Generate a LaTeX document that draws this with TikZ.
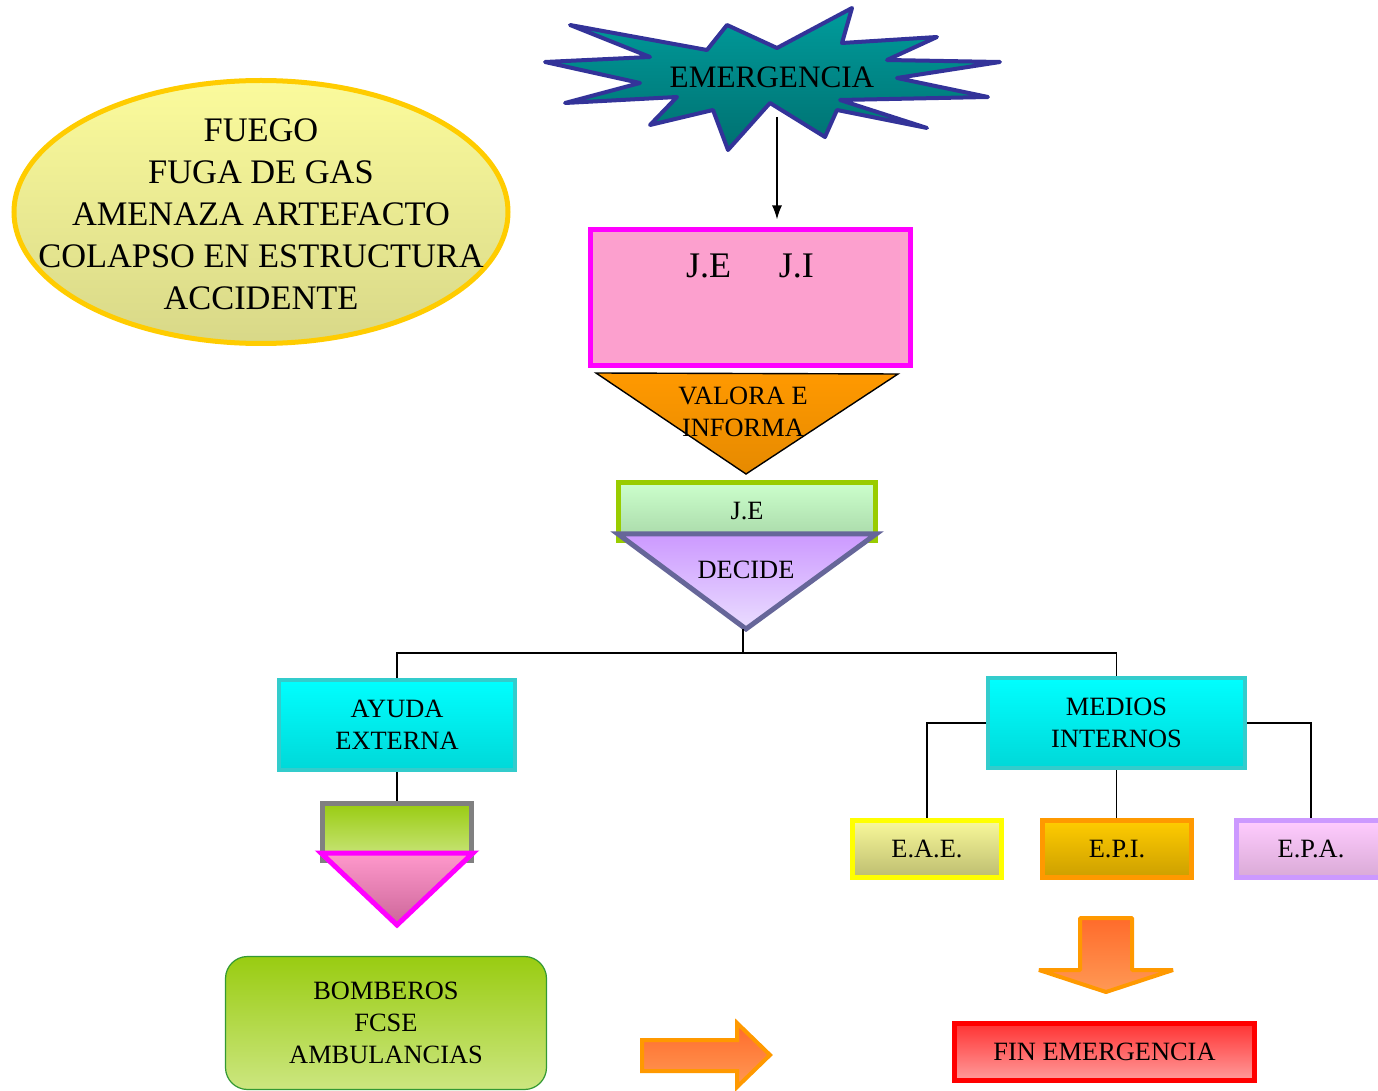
\documentclass[tikz,border=0pt]{standalone}
\usepackage{fontspec}
\setmainfont{Liberation Serif}
\usetikzlibrary{positioning}
\usetikzlibrary{arrows,arrows.meta}
\usetikzlibrary{shapes.geometric}

\definecolor{causeedge}{HTML}{FFCC00}
\definecolor{causetop}{HTML}{FBFB9C}
\definecolor{causebot}{HTML}{D8D888}
\definecolor{burstedge}{HTML}{333399}
\definecolor{bursttop}{HTML}{009C9C}
\definecolor{burstbot}{HTML}{007070}
\definecolor{jejiedge}{HTML}{FF00FF}
\definecolor{jejifill}{HTML}{FCA0CE}
\definecolor{valtop}{HTML}{FF9900}
\definecolor{valbot}{HTML}{E68A00}
\definecolor{jeedge}{HTML}{99CC00}
\definecolor{jetop}{HTML}{CCFFCC}
\definecolor{jebot}{HTML}{A8D8A8}
\definecolor{decedge}{HTML}{666699}
\definecolor{dectop}{HTML}{CC99FF}
\definecolor{decbot}{HTML}{EADDFF}
\definecolor{cyanedge}{HTML}{33CCCC}
\definecolor{cyantop}{HTML}{00FFFF}
\definecolor{cyanbot}{HTML}{00D8D8}
\definecolor{helpedge}{HTML}{808080}
\definecolor{greentop}{HTML}{99CC11}
\definecolor{greenbot}{HTML}{CCE680}
\definecolor{pinktop}{HTML}{FF99CC}
\definecolor{pinkbot}{HTML}{CC6699}
\definecolor{bombedge}{HTML}{339933}
\definecolor{eaeedge}{HTML}{FFFF00}
\definecolor{eaetop}{HTML}{F9F99A}
\definecolor{eaebot}{HTML}{BDBD70}
\definecolor{epiedge}{HTML}{FF9900}
\definecolor{epitop}{HTML}{FFCC00}
\definecolor{epibot}{HTML}{CC9F00}
\definecolor{epaedge}{HTML}{CC99FF}
\definecolor{epatop}{HTML}{FFCCFF}
\definecolor{epabot}{HTML}{D9AAD6}
\definecolor{arrowedge}{HTML}{FF9900}
\definecolor{arrowtop}{HTML}{FF6B2B}
\definecolor{arrowbot}{HTML}{FF9955}
\definecolor{finedge}{HTML}{FF0000}
\definecolor{fintop}{HTML}{FF3333}
\definecolor{finbot}{HTML}{FF9C9C}

\begin{document}
\begin{tikzpicture}
				[x=0.5pt,y=-0.5pt,
					box/.style={rectangle,inner sep=0pt,line width=2.5pt},
					txt/.style={font=\fontsize{13.2}{16}\selectfont,align=center,inner sep=0pt},
					cyanbox/.style={box,txt,line width=2pt,draw=cyanedge,top color=cyantop,bottom color=cyanbot,minimum height=45pt},
					teambox/.style={box,txt,minimum width=74.5pt,minimum height=28.5pt},
					tri/.style={line width=2.5pt,line join=miter},
					blockarrow/.style={draw=arrowedge,line width=2pt,top color=arrowtop,bottom color=arrowbot},
					connect/.style={line width=0.8pt}]
				\useasboundingbox (0,0) rectangle (1378,1091);
				% causes
				\node (causes) [ellipse,inner sep=0pt,line width=2.5pt,draw=causeedge,top color=causetop,bottom color=causebot,minimum width=247pt,minimum height=131.5pt] at (261,212) {};
				\node (causetxt) [font=\fontsize{17.2}{21}\selectfont,align=center,inner sep=0pt] at (261,214) {FUEGO\\FUGA DE GAS\\AMENAZA ARTEFACTO\\COLAPSO EN ESTRUCTURA\\ACCIDENTE};
				% emergency burst
				\draw [line width=2pt,line join=round,draw=burstedge,top color=bursttop,bottom color=burstbot]
					(545,62) -- (650,57) -- (570,25) -- (707,50) -- (727,25) -- (777,48) -- (852,8) -- (842,43)
					-- (937,37) -- (887,60) -- (1000,62) -- (897,78) -- (988,97) -- (840,100) -- (927,128) -- (837,110)
					-- (825,137) -- (770,103) -- (728,150) -- (713,110) -- (650,125) -- (677,97) -- (565,103) -- (640,83) -- cycle;
				\node (emerg) [font=\fontsize{15.6}{18}\selectfont,inner sep=0pt] at (772,77) {EMERGENCIA};
				\coordinate (burstfoot) at (777,117);
				% J.E / J.I
				\node (jeji) [box,draw=jejiedge,fill=jejifill,minimum width=160pt,minimum height=68pt] at (750.5,297.5) {};
				\node (jejitxt) [font=\fontsize{18}{20}\selectfont,inner sep=0pt] at (750,266) {J.E\hspace{24pt}J.I};
				\draw [connect,-{Latex[length=7pt,width=5pt]},shorten >=3.75pt] (burstfoot) -- (burstfoot |- jeji.north);
				% valora
				\coordinate (valL) at (596,373);
				\coordinate (valR) at (898,374);
				\coordinate (valtip) at (746,474);
				\draw [line width=0.7pt,draw=black,top color=valtop,bottom color=valbot] (valL) -- (valR) -- (valtip) -- cycle;
				\node (valtxt) [txt] at (743,412) {VALORA E\\INFORMA};
				% J.E decide
				\node (je) [box,txt,draw=jeedge,top color=jetop,bottom color=jebot,minimum width=128.5pt,minimum height=29pt] at (747,511.5) {J.E};
				\coordinate (decL) at (618,534);
				\coordinate (decR) at (876,534);
				\coordinate (dectip) at (746,629);
				\draw [tri,draw=decedge,top color=dectop,bottom color=decbot] (decL) -- (decR) -- (dectip) -- cycle;
				\node (dectxt) [txt] at (746,570) {DECIDE};
				% branches
				\coordinate (split) at (743,653);
				\node (ayuda) [cyanbox,minimum width=118pt] at (397,725) {AYUDA\\EXTERNA};
				\node (medios) [cyanbox,minimum width=128.5pt] at (1116.5,723) {MEDIOS\\INTERNOS};
				\draw [connect] (split |- dectip) -- (split);
				\draw [connect] (ayuda.north) |- (split) -| (medios.north);
				% external help
				\node (help) [box,draw=helpedge,top color=greentop,bottom color=greenbot,minimum width=74.5pt,minimum height=28.5pt] at (397,832) {};
				\draw [connect] (ayuda.south) -- (help.north);
				\coordinate (helpL) at (321,853);
				\coordinate (helpR) at (473,853);
				\coordinate (helptip) at (397,925);
				\draw [tri,draw=jejiedge,top color=pinktop,bottom color=pinkbot] (helpL) -- (helpR) -- (helptip) -- cycle;
				\node (bomberos) [box,txt,line width=0.6pt,rounded corners=11pt,draw=bombedge,top color=greentop,bottom color=greenbot,minimum width=160.5pt,minimum height=66.5pt] at (386,1023) {BOMBEROS\\FCSE\\AMBULANCIAS};
				% internal teams
				\node (eae) [teambox,draw=eaeedge,top color=eaetop,bottom color=eaebot] at (927,849) {E.A.E.};
				\node (epi) [teambox,draw=epiedge,top color=epitop,bottom color=epibot] at (1117,849) {E.P.I.};
				\node (epa) [teambox,draw=epaedge,top color=epatop,bottom color=epabot] at (1311,849) {E.P.A.};
				\draw [connect] (medios.west) -| (eae.north);
				\draw [connect] (medios.south) -- (medios.south |- epi.north);
				\draw [connect] (medios.east) -| (epa.north);
				% block arrows
				\draw [blockarrow] (642,1040) -- (737,1040) -- (737,1023) -- (770,1055) -- (737,1087) -- (737,1071) -- (642,1071) -- cycle;
				\draw [blockarrow,line join=bevel] (1080,918) -- (1132,918) -- (1132,970) -- (1173,970) -- (1106,992) -- (1039,970) -- (1080,970) -- cycle;
				\node (fin) [box,txt,draw=finedge,top color=fintop,bottom color=finbot,minimum width=150pt,minimum height=28.5pt] at (1104.5,1052) {FIN EMERGENCIA};
			\end{tikzpicture}
\end{document}
